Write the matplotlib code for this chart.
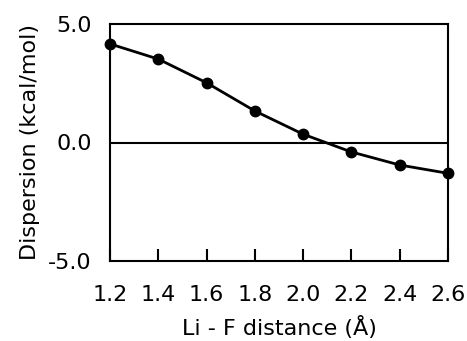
import numpy as np
from matplotlib import pyplot as plt

distance = [1.2, 1.4, 1.6, 1.8, 2.0, 2.2, 2.4, 2.6]
dispersion = [4.16, 3.52, 2.52, 1.33, 0.35, -0.40, -0.95, -1.30]
y_ticks = [-5.0, 0.0, 5.0]


def main():
    plt.rcParams['font.family'] = ['DejaVu Sans']
    fig = plt.figure(figsize=(4.67, 3.41), dpi=100)
    ax = fig.add_axes([110 / 467, 1 - 261 / 341, 338 / 467, 237 / 341])

    ax.plot(distance, dispersion, color='k', lw=2, marker='o', ms=7.5, clip_on=False, zorder=3)
    ax.axhline(0, color='k', lw=1.5)

    ax.set_xlim(1.2, 2.6)
    ax.set_ylim(-5, 5)
    ax.set_xticks(distance)
    ax.set_xticklabels([f'{d:.1f}' for d in distance])
    ax.set_yticks(y_ticks)
    ax.set_yticklabels([f'{v:.1f}' for v in y_ticks])
    ax.tick_params(axis='x', direction='in', length=9, width=1.5, pad=17, labelsize=16)
    ax.tick_params(axis='y', length=0, pad=13, labelsize=16)
    for s in ax.spines.values():
        s.set_linewidth(1.5)

    ax.set_xlabel('Li - F distance (Å)', fontsize=16, labelpad=8)
    ax.set_ylabel('Dispersion (kcal/mol)', fontsize=16, labelpad=6)

    fig.savefig('out.png', dpi=100)


if __name__ == '__main__':
    main()
